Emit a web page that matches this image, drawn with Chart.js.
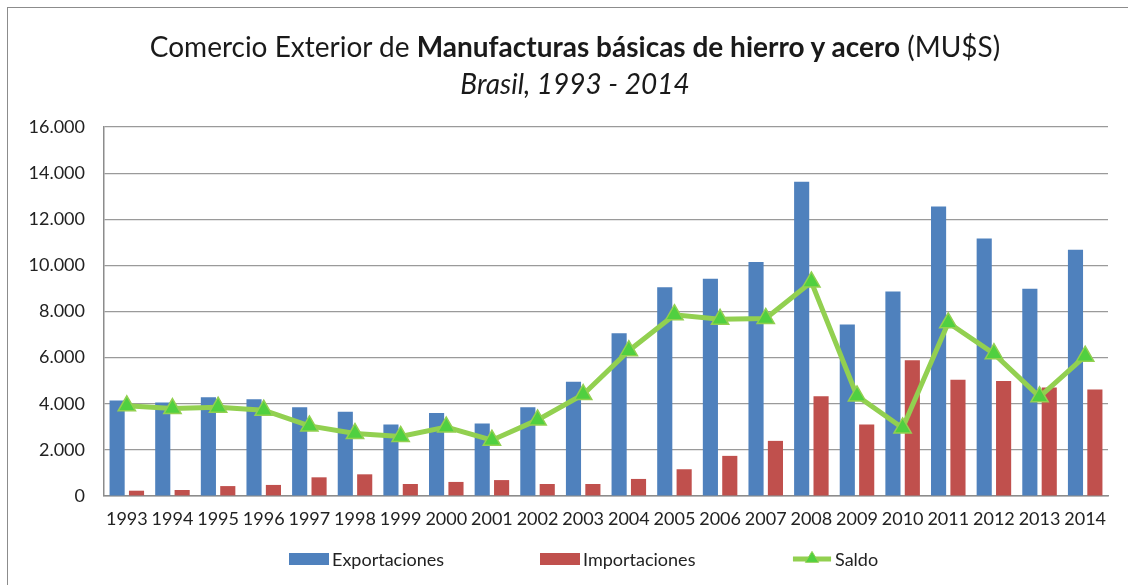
<!DOCTYPE html>
<html>
<head>
<meta charset="utf-8">
<script src="https://cdn.jsdelivr.net/npm/chart.js@4"></script>
<style>
  html, body { margin: 0; padding: 0; background: #fff; overflow: hidden; }
  body { width: 1128px; height: 585px; position: relative; font-family: Lato, "Open Sans", sans-serif; color: #222; }
  #frame { position: absolute; left: 7px; top: 7px; width: 2000px; height: 2000px; border: 1.5px solid #8c8c8c; box-sizing: border-box; }
  #wrap { position: absolute; left: 0; top: 0; width: 1128px; height: 585px; }
  #title { position: absolute; left: 0; width: 1150px; top: 28px; text-align: center; font-size: 28px; line-height: 37px; color: #1a1a1a; white-space: nowrap; }
  #title b { font-weight: 700; }
  #title i { font-style: italic; }
  .lg { position: absolute; top: 548px; height: 22px; font-size: 18px; line-height: 22px; white-space: nowrap; color: #222; }
  .sw { position: absolute; top: 5px; width: 40px; height: 12px; }
  .lg span.t { position: absolute; top: 0; }
</style>
</head>
<body>
<div id="frame"></div>
<div id="wrap"><canvas id="c" width="1128" height="585"></canvas></div>
<div id="title">Comercio Exterior de <b>Manufacturas básicas de hierro y acero</b> (MU$S)<br><i>Brasil, 1993 - 2014</i></div>
<div class="lg" style="left:289px"><div class="sw" style="left:0;background:#4F81BD"></div><span class="t" style="left:43px">Exportaciones</span></div>
<div class="lg" style="left:540px"><div class="sw" style="left:0;background:#C0504D"></div><span class="t" style="left:43px">Importaciones</span></div>
<div class="lg" style="left:792px"><svg class="sw" style="left:0;top:2px;height:18px" width="42" height="18" viewBox="0 0 42 18"><line x1="1" y1="9" x2="41" y2="9" stroke="#92D050" stroke-width="5"/><polygon points="21,1 28,12.5 14,12.5" fill="#50D040" stroke="#92D050" stroke-width="1"/></svg><span class="t" style="left:43px">Saldo</span></div>
<script>
const years = ['1993','1994','1995','1996','1997','1998','1999','2000','2001','2002','2003','2004','2005','2006','2007','2008','2009','2010','2011','2012','2013','2014'];
const exportaciones = [4140,4050,4280,4200,3850,3650,3100,3600,3140,3850,4950,7060,9050,9420,10150,13630,7440,8870,12550,11160,8990,10680];
const importaciones = [230,260,430,480,810,940,520,610,690,520,520,740,1160,1740,2390,4330,3100,5890,5040,4990,4700,4620];
const saldo = [3910,3790,3850,3720,3040,2710,2580,2990,2420,3300,4400,6300,7860,7660,7700,9280,4340,2950,7510,6170,4300,6060];
const yTicks = [0,2000,4000,6000,8000,10000,12000,14000,16000];

const fmt = v => String(v).replace(/\B(?=(\d{3})+(?!\d))/g, '.');

new Chart(document.getElementById('c'), {
  type: 'bar',
  data: {
    labels: years,
    datasets: [
      { type: 'bar', label: 'Exportaciones', data: exportaciones, backgroundColor: '#4F81BD', order: 2, categoryPercentage: 0.85, barPercentage: 0.78 },
      { type: 'bar', label: 'Importaciones', data: importaciones, backgroundColor: '#C0504D', order: 2, categoryPercentage: 0.85, barPercentage: 0.78 },
      { type: 'line', label: 'Saldo', data: saldo, borderColor: '#92D050', borderWidth: 5, backgroundColor: '#50D040',
        pointStyle: 'triangle', pointRadius: 10, pointHoverRadius: 10, pointBackgroundColor: '#50D040', pointBorderColor: '#92D050', pointBorderWidth: 1.5,
        tension: 0, fill: false, order: 0 }
    ]
  },
  options: {
    responsive: false,
    animation: false,
    devicePixelRatio: 1,
    layout: { padding: { top: 127, right: 20, left: 0, bottom: 0 } },
    plugins: { legend: { display: false }, title: { display: false }, tooltip: { enabled: false } },
    scales: {
      x: {
        grid: { display: false, drawTicks: false },
        border: { display: true, color: '#8c8c8c', width: 1.5 },
        ticks: { color: '#222', font: { family: 'Lato', size: 18 }, padding: 12, autoSkip: false, maxRotation: 0, minRotation: 0 },
        afterFit: s => { s.height = 89; }
      },
      y: {
        min: 0, max: 16000,
        afterBuildTicks: s => { s.ticks = yTicks.map(v => ({ value: v })); },
        grid: { color: '#9a9a9a', lineWidth: 1.2, drawTicks: false },
        border: { display: true, color: '#8c8c8c', width: 1.5 },
        ticks: { color: '#222', font: { family: 'Lato', size: 18 }, padding: 19, callback: v => fmt(v) },
        afterFit: s => { s.width = 104; }
      }
    }
  }
});
</script>
</body>
</html>
